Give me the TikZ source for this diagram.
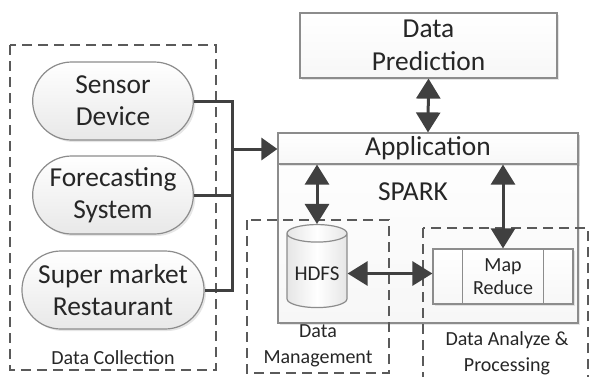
\documentclass[tikz,border=0pt]{standalone}
\usepackage{fontspec}
\setmainfont{Carlito}
\usetikzlibrary{arrows.meta,shapes.misc,shapes.geometric,shadows}

\definecolor{edgegray}{HTML}{8C8C8C}
\definecolor{dashgray}{HTML}{5A5A5A}
\definecolor{boxfill}{HTML}{F7F7F7}
\definecolor{arrowgray}{HTML}{404040}
\definecolor{textgray}{HTML}{262626}

\tikzset{
  source/.style={rounded rectangle, draw=edgegray, line width=0.6pt,
    top color=white, bottom color=black!9, minimum width=87pt,
    minimum height=39pt, align=center, font=\fontsize{13.7}{16}\selectfont,
    text=textgray, drop shadow={opacity=0.2, shadow xshift=1pt, shadow yshift=-1pt}},
  block/.style={rectangle, draw=edgegray, line width=0.6pt, top color=white,
    bottom color=boxfill, align=center, font=\fontsize{13.7}{16.5}\selectfont,
    text=textgray, drop shadow={opacity=0.2, shadow xshift=1pt, shadow yshift=-1pt}},
  group/.style={draw=dashgray, line width=0.75pt, dash pattern=on 5pt off 3pt},
  grouplabel/.style={align=center, font=\fontsize{10}{13}\selectfont, text=textgray},
  wire/.style={draw=arrowgray, line width=1.5pt},
  arr/.style={wire, -{Triangle[length=8pt, width=11pt]}},
  dbl/.style={wire, {Triangle[length=10pt, width=12pt]}-{Triangle[length=10pt, width=12pt]}}
}

\begin{document}
\begin{tikzpicture}[x=0.5pt, y=-0.5pt]
  \useasboundingbox (0,0) rectangle (590,376);
  \clip (0,0) rectangle (590,376);

  % Dashed groups
  \draw[group] (10,45) rectangle (216,370);
  \node[grouplabel] (lcoll) at (113,358) {Data Collection};

  % Sources of data
  \node[source] (sensor) at (113,101) {Sensor\\Device};
  \node[source] (forecast) at (113,195) {Forecasting\\System};
  \node[source] (market) at (113,290) {Super market\\Restaurant};

  % Prediction and SPARK
  \node[block, minimum width=128.5pt, minimum height=32.5pt] (predict) at (428.5,45.5) {Data\\Prediction};
  \node[block, minimum width=150pt, minimum height=95pt] (spark) at (428,228) {};
  \node[block, minimum width=150pt, minimum height=15.5pt, inner sep=0pt] (app) at (428,148.5) {Application};
  \node[font=\fontsize{13.7}{16}\selectfont, text=textgray] (sparklbl) at (413,192) {SPARK};

  % Data management group
  \draw[group] (247,220) rectangle (389,373);
  \node[grouplabel] (lmgmt) at (318,346) {Data\\Management};
  \node[cylinder, shape border rotate=90, aspect=0.3, draw=edgegray, line width=0.6pt,
    left color=black!10, right color=black!10, middle color=white,
    minimum width=30pt, minimum height=41.5pt,
    font=\fontsize{10.5}{12}\selectfont, text=textgray] (hdfs) at (317,273.5) {HDFS};

  % Data analyze group
  \draw[group] (423,228) rectangle (588,400);
  \node[grouplabel] (lanal) at (507,353) {Data Analyze \&\\Processing};
  \node[block, minimum width=70pt, minimum height=27.5pt, inner sep=0pt,
    font=\fontsize{10}{11.5}\selectfont] (mr) at (503,276.5) {Map\\Reduce};
  \draw[edgegray, line width=0.6pt] ([xshift=15pt]mr.north west) -- ([xshift=15pt]mr.south west);
  \draw[edgegray, line width=0.6pt] ([xshift=-15pt]mr.north east) -- ([xshift=-15pt]mr.south east);

  % Connectors
  \coordinate (bus) at (232,149);
  \draw[wire] (sensor.east) -| (bus) |- (market.east);
  \draw[wire] (forecast.east) -- (forecast.east -| bus);
  \draw[arr] (bus) -- (bus -| app.west);
  \draw[dbl] (predict.south) -- (app.north);
  \draw[dbl] (app.south -| hdfs.north) -- (hdfs.north);
  \draw[dbl] (app.south -| mr.north) -- (mr.north);
  \draw[dbl] (hdfs.east) -- (hdfs.east -| mr.west);
\end{tikzpicture}
\end{document}
